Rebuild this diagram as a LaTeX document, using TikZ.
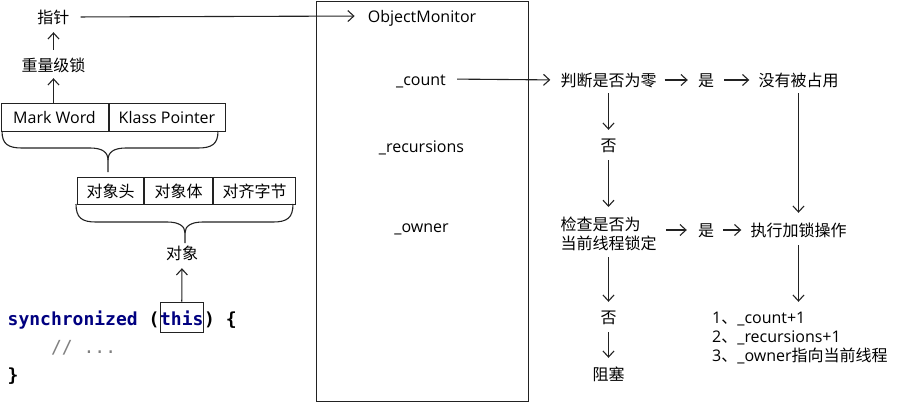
\documentclass[tikz,border=0pt]{standalone}
\usepackage{fontspec}
\setmainfont{Open Sans}
\newfontfamily\cjk{Noto Sans CJK SC}
\newfontfamily\codefont{DejaVu Sans Mono}
\usetikzlibrary{arrows.meta}
\definecolor{codeblue}{HTML}{000080}
\definecolor{linecol}{HTML}{222222}
\begin{document}
\begin{tikzpicture}[x=1pt,y=-1pt,
  txt/.style={inner sep=0, text height=14, text depth=2, font=\fontsize{16}{19}\selectfont},
  zh/.style={txt, font=\fontsize{16}{19}\selectfont\cjk},
  cell/.style={draw=linecol, line width=1pt, inner sep=0, minimum height=28, anchor=north west, font=\fontsize{16}{19}\selectfont},
  zcell/.style={cell, minimum height=27, font=\fontsize{16}{19}\selectfont\cjk},
  code/.style={inner sep=0, anchor=base west, text=codeblue, font=\fontsize{18}{20}\selectfont\codefont\bfseries},
  line/.style={draw=linecol, line width=1.1pt},
  arr/.style={line, -{Straight Barb[length=6pt,width=11pt]}},
]
\useasboundingbox (0,0) rectangle (898,402);

% left column
\node[zh] (zz) at (53.5,17) {指针};
\node[zh] (zl) at (53.5,65) {重量级锁};
\node[cell, minimum width=107] (mw) at (0.5,103) {Mark Word};
\node[cell, minimum width=116] (kp) at (mw.north east) {Klass Pointer};
\node[zcell, minimum width=66] (h1) at (77,177) {对象头};
\node[zcell, minimum width=68] (h2) at (h1.north east) {对象体};
\node[zcell, minimum width=82] (h3) at (h2.north east) {对齐字节};
\node[zh] (obj) at (182,253) {对象};

% braces
\draw[line] (2,131) .. controls (2,144) and (8,148) .. (22,148) -- (90,148)
  .. controls (102,148) and (108,152) .. (108,160) -- (108,172);
\draw[line] (218,131) .. controls (218,144) and (212,148) .. (198,148) -- (126,148)
  .. controls (114,148) and (108,152) .. (108,160);
\draw[line] (76,204) .. controls (76,218) and (82,222) .. (96,222) -- (167,222)
  .. controls (179,222) and (185,226) .. (185,233) -- (185,243);
\draw[line] (293,204) .. controls (293,218) and (287,222) .. (273,222) -- (203,222)
  .. controls (191,222) and (185,226) .. (185,233);

% code
\node[code] (c1) at (7.5,325) {synchronized \textcolor{black}{(}};
\node[code, draw=linecol, line width=1pt, text height=23, text depth=7] (this) at (c1.base east) {this};
\node[code] (c2) at (this.base east) {\textcolor{black}{) \{}};
\node[code, text=gray, font=\fontsize{18}{20}\selectfont\codefont] (c3) at (50.9,353) {// ...};
\node[code, text=black] (c4) at (7.5,381) {\}};

% monitor
\node[draw=linecol, line width=1pt, minimum width=212.5, minimum height=400, anchor=north west, inner sep=0] (mon) at (315.5,0.5) {};
\node[txt] (om) at (422,16) {ObjectMonitor};
\node[txt] (cnt) at (421,79) {\_count};
\node[txt] (rec) at (421.5,146) {\_recursions};
\node[txt] (own) at (421.5,226) {\_owner};

% right
\node[zh] (pd) at (608.5,80) {判断是否为零};
\node[zh] (y1) at (706,80) {是};
\node[zh] (mz) at (798.5,80) {没有被占用};
\node[zh] (n1) at (608.5,145) {否};
\node[inner sep=0, align=left, anchor=north west, font=\fontsize{16}{19}\selectfont\cjk] (jc) at (560.5,217) {检查是否为\\当前线程锁定};
\node[zh] (y2) at (706,230) {是};
\node[zh] (zx) at (798.5,230) {执行加锁操作};
\node[zh] (n2) at (608.5,317) {否};
\node[zh] (zs) at (608.5,374) {阻塞};
\node[txt, anchor=base west] (l1) at (712,323) {1{\cjk 、}\_count+1};
\node[txt, anchor=base west] (l2) at (712,342) {2{\cjk 、}\_recursions+1};
\node[txt, anchor=base west] (l3) at (712,361) {3{\cjk 、}\_owner{\cjk 指向当前线程}};

% connectors
\draw[arr, shorten <=11pt, shorten >=13pt] (zz.east) -- (om.west);
\draw[arr, shorten <=7pt, shorten >=7pt] (zl.north) -- (zz.south);
\draw[arr, shorten >=5pt] (zl.south |- mw.north) -- (zl.south);
\draw[arr, shorten >=7pt] (this.north) -- (obj.south);
\draw[arr, shorten <=11pt, shorten >=10pt] (cnt.east) -- (pd.west);
\draw[arr, shorten <=8pt, shorten >=10pt] (pd.east) -- (y1.west);
\draw[arr, shorten <=10pt, shorten >=9pt] (y1.east) -- (mz.west);
\draw[arr, shorten <=5pt, shorten >=7pt] (pd.south) -- (n1.north);
\draw[arr, shorten <=7pt, shorten >=10pt] (n1.south) -- (n1.south |- jc.north);
\draw[arr, shorten <=9pt, shorten >=11pt] (jc.east |- y2) -- (y2.west);
\draw[arr, shorten <=9pt, shorten >=9pt] (y2.east) -- (zx.west);
\draw[arr, shorten <=5pt, shorten >=9pt] (mz.south) -- (zx.north);
\draw[arr, shorten <=7pt, shorten >=7pt] (zx.south) -- (zx.south |- l1.north);
\draw[arr, shorten <=6pt, shorten >=7pt] (n2.north |- jc.south) -- (n2.north);
\draw[arr, shorten <=7pt, shorten >=8pt] (n2.south) -- (zs.north);
\end{tikzpicture}
\end{document}
